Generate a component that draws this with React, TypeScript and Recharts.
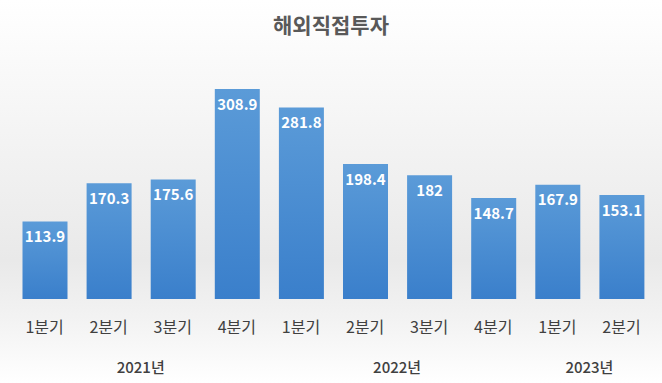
import React from "react";
import { BarChart, Bar, XAxis, YAxis, LabelList } from "recharts";

const quarters = ["1분기", "2분기", "3분기", "4분기", "1분기", "2분기", "3분기", "4분기", "1분기", "2분기"];
const years = ["2021년", "2021년", "2021년", "2021년", "2022년", "2022년", "2022년", "2022년", "2023년", "2023년"];
const values = [113.9, 170.3, 175.6, 308.9, 281.8, 198.4, 182, 148.7, 167.9, 153.1];
const yearLabelIndex = [1, 5, 8];

const data = quarters.map((q, i) => ({ key: `${years[i]}-${q}-${i}`, quarter: q, year: years[i], value: values[i] }));

const FONT = "'Noto Sans CJK KR', 'Noto Sans', sans-serif";

const Tick = (props: any) => {
  const { x, y, payload, index, width } = props;
  const n = data.length;
  const band = width / n;
  const i = payload.index ?? index;
  const d = data[i];
  return (
    <g>
      <text x={x} y={y + 26} textAnchor="middle" fontFamily={FONT} fontSize={16} fill="#404040">
        {d ? d.quarter : ""}
      </text>
      {yearLabelIndex.includes(i) && (
        <text x={x + band / 2} y={y + 66} textAnchor="middle" fontFamily={FONT} fontSize={15} fontWeight={500} fill="#404040">
          {d.year}
        </text>
      )}
    </g>
  );
};

export default function App() {
  return (
    <div style={{ position: "fixed", left: 0, top: 0, width: 662, height: 383, background: "linear-gradient(to bottom, #ffffff 0%, #f7f7f7 25%, #e9e9e9 68%, #f3f3f3 84%, #ffffff 100%)" }}>
      <div style={{ position: "absolute", left: 0, top: 9, width: 662, textAlign: "center", fontFamily: FONT, fontSize: 21, fontWeight: 700, color: "#595959" }}>
        해외직접투자
      </div>
      <BarChart width={662} height={383} data={data} margin={{ top: 61, right: 8.5, bottom: 0, left: 12.5 }}>
        <defs>
          <linearGradient id="barGrad" x1="0" y1="0" x2="0" y2="1">
            <stop offset="0%" stopColor="#5b9bd8" />
            <stop offset="100%" stopColor="#3a7fcb" />
          </linearGradient>
        </defs>
        <XAxis dataKey="key" axisLine={false} tickLine={false} interval={0} tick={<Tick />} height={84} />
        <YAxis hide domain={[0, 350]} />
        <Bar dataKey="value" fill="url(#barGrad)" barSize={45} isAnimationActive={false}>
          <LabelList dataKey="value" position="insideTop" offset={10} fill="#ffffff" fontFamily={FONT} fontSize={15} fontWeight={700} />
        </Bar>
      </BarChart>
    </div>
  );
}
